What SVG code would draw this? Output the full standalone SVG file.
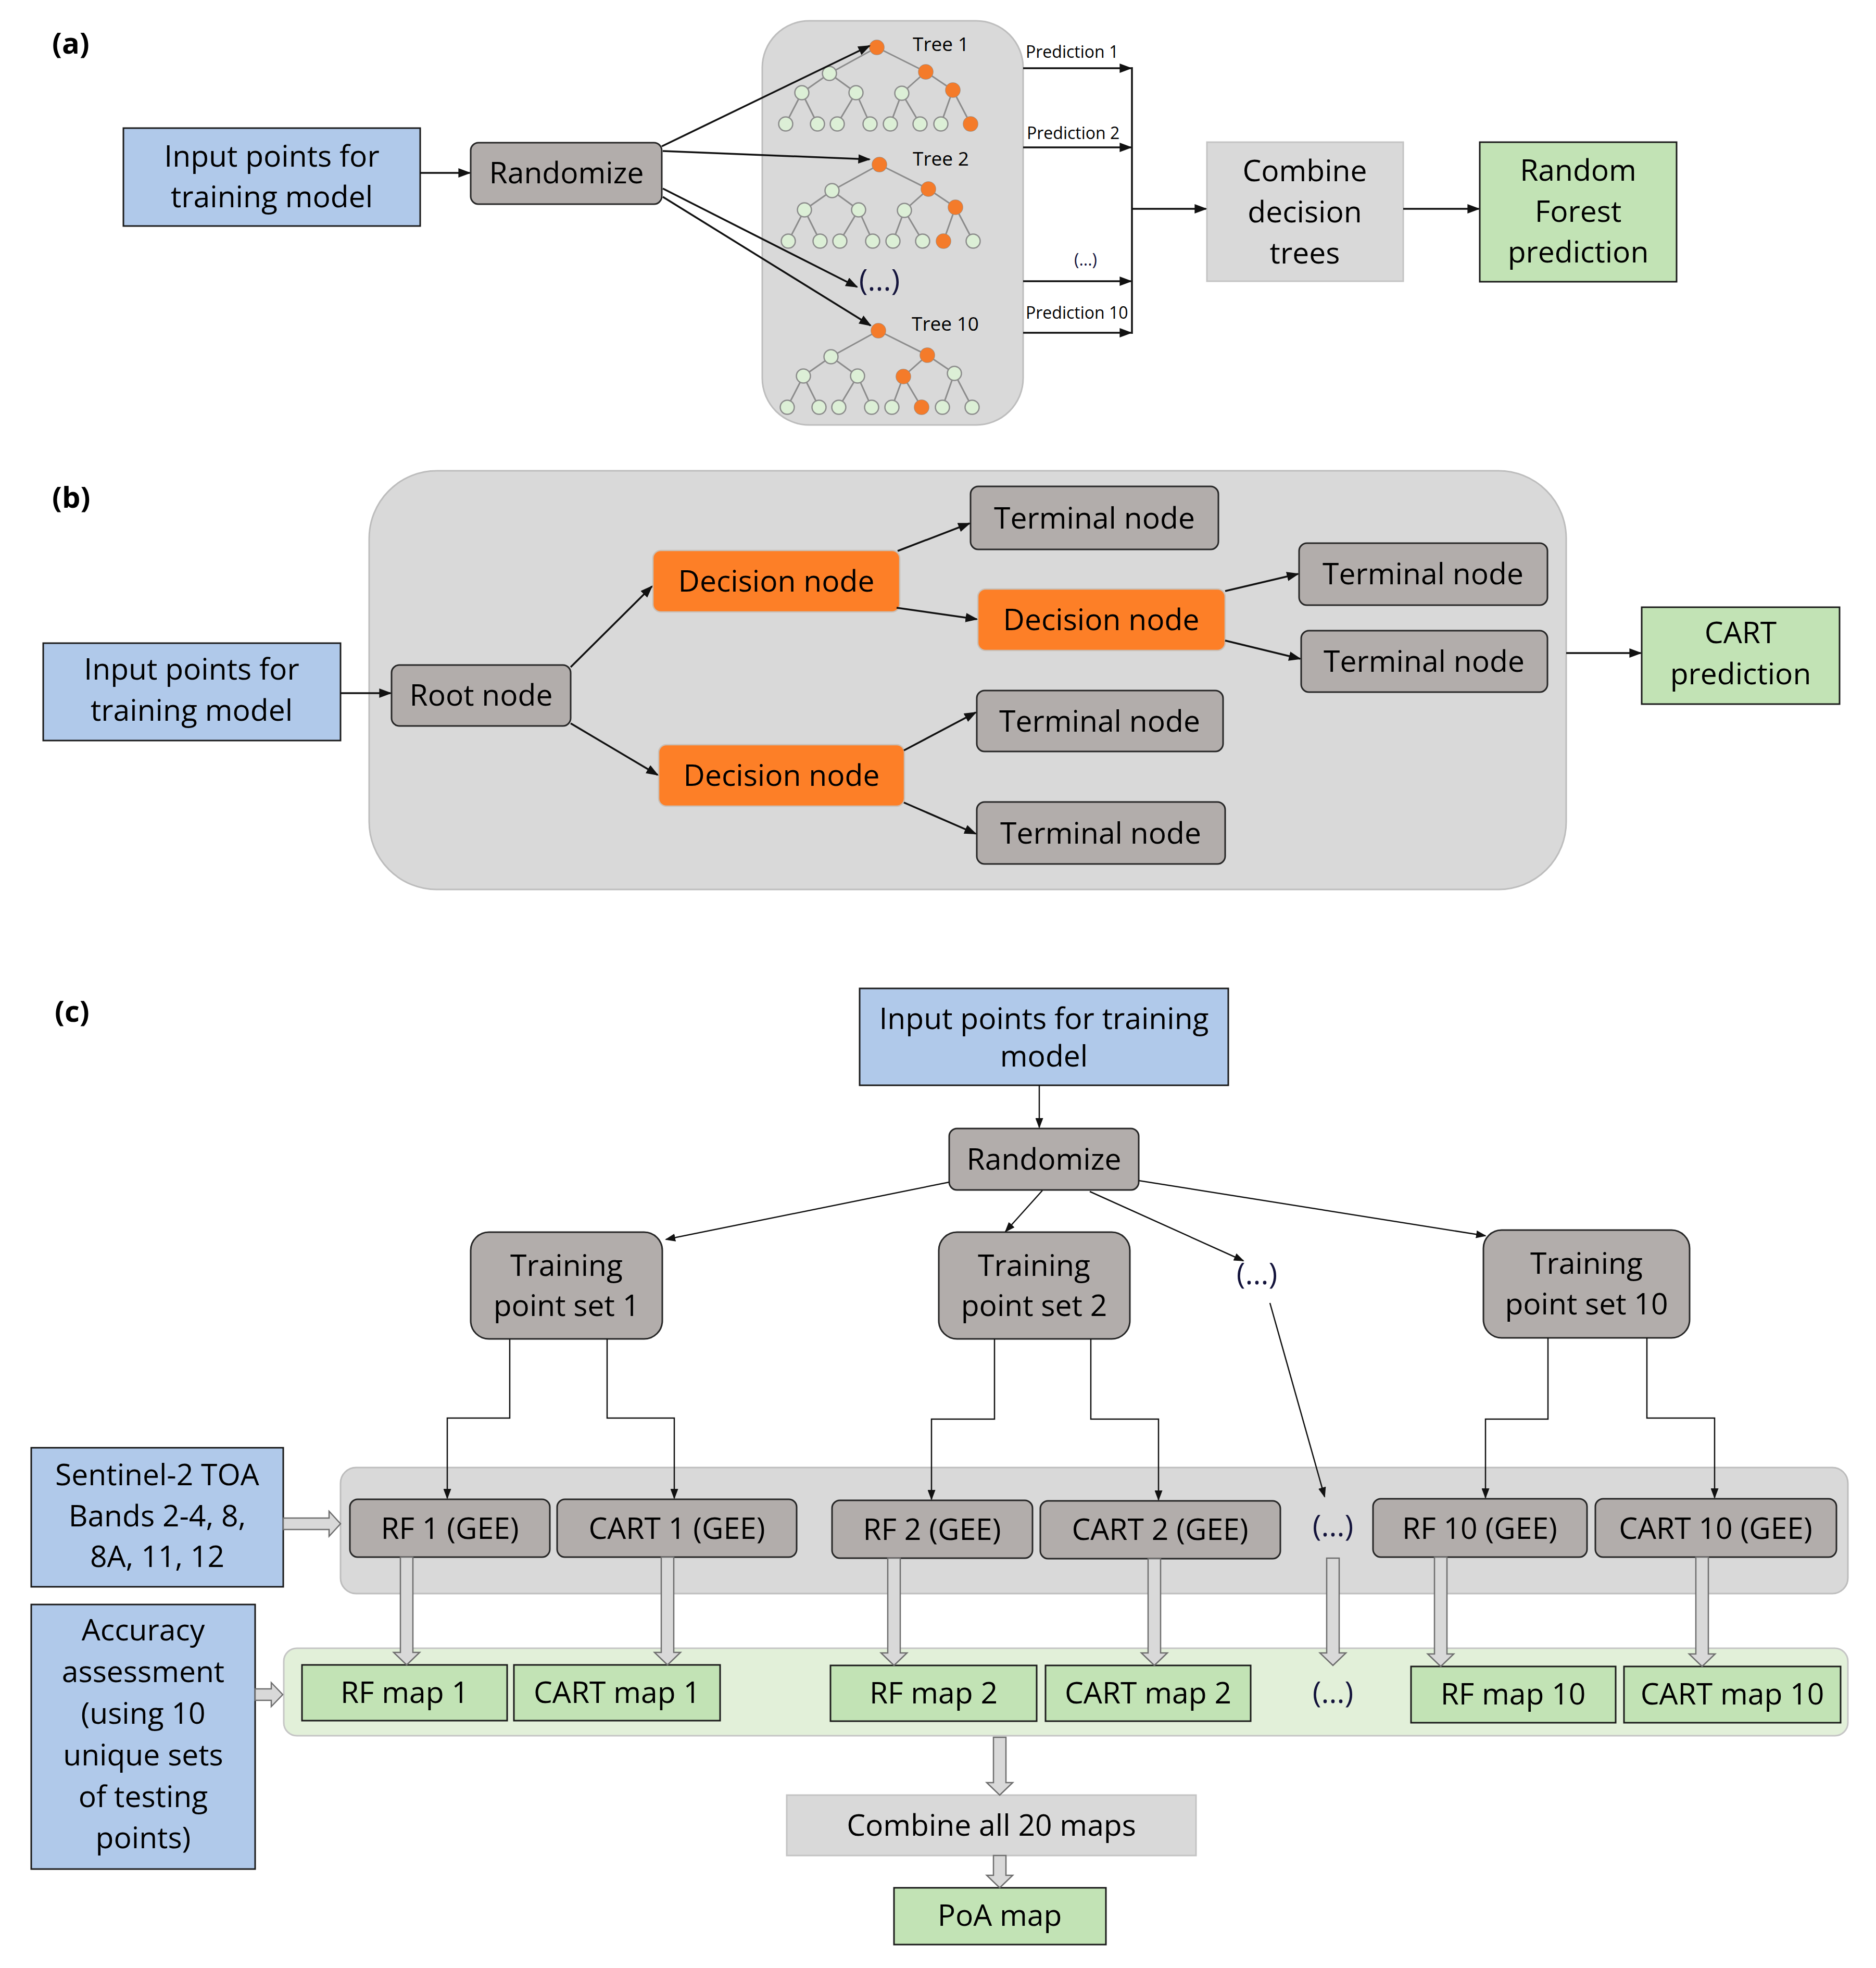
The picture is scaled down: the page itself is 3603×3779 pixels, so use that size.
<svg xmlns="http://www.w3.org/2000/svg" xmlns:xlink="http://www.w3.org/1999/xlink" width="3603" height="3779" viewBox="0 0 3603 3779">
<style>
.t{font-family:"Open Sans","Liberation Sans",sans-serif;font-size:57px;fill:#000;text-anchor:middle}
.ts{font-family:"Open Sans","Liberation Sans",sans-serif;font-size:32px;fill:#000}
.tt{font-family:"Open Sans","Liberation Sans",sans-serif;font-size:37px;fill:#000}
.lab{font-family:"Open Sans","Liberation Sans",sans-serif;font-size:56px;font-weight:bold;fill:#000}
.dots{fill:#14143c}
.blue{fill:#b0c9ea;stroke:#1a1a1a;stroke-width:3}
.gray{fill:#b2adab;stroke:#262626;stroke-width:3}
.orange{fill:#fd7f27;stroke:#c8c0b8;stroke-width:2.5}
.green{fill:#c2e3b5;stroke:#1a1a1a;stroke-width:3}
.lgray{fill:#d9d9d9;stroke:#c4c4c4;stroke-width:3}
.cont{fill:#d9d9d9;stroke:#bdbdbd;stroke-width:3}
.gcont{fill:#e2f0d9;stroke:#c6c6c6;stroke-width:3}
.ln{fill:none;stroke:#111;stroke-width:3.5;marker-end:url(#ah)}
.lnc{fill:none;stroke:#111;stroke-width:2.5;marker-end:url(#ahc)}
.pl{fill:none;stroke:#111;stroke-width:3.5}
.fat{fill:#d9d9d9;stroke:#6e6e6e;stroke-width:2.5}
.edge{fill:none;stroke:#8c8c8c;stroke-width:3}
.tn{fill:#dcefd6;stroke:#8c8c8c;stroke-width:2.5}
.on{fill:#f47b2a}
</style>
<defs>
<marker id="ah" viewBox="0 0 10 10" refX="9" refY="5" markerWidth="24" markerHeight="18" markerUnits="userSpaceOnUse" orient="auto" preserveAspectRatio="none"><path d="M0,0 L10,5 L0,10 z" fill="#111"/></marker>
<marker id="ahc" viewBox="0 0 10 10" refX="9" refY="5" markerWidth="20" markerHeight="15" markerUnits="userSpaceOnUse" orient="auto" preserveAspectRatio="none"><path d="M0,0 L10,5 L0,10 z" fill="#111"/></marker>
<g id="tree">
<path class="edge" d="M0,0 L-91,50 M0,0 L94,47 M-91,50 L-144,87 M-91,50 L-40,87 M94,47 L48,88 M94,47 L146,82 M-144,87 L-175,147 M-144,87 L-114,147 M-40,87 L-76,147 M-40,87 L-13,147 M48,88 L26,147 M48,88 L83,147 M146,82 L123,147 M146,82 L180,147"/>
<circle class="tn" cx="0" cy="0" r="13.5"/>
<circle class="tn" cx="-91" cy="50" r="13.5"/><circle class="tn" cx="94" cy="47" r="13.5"/>
<circle class="tn" cx="-144" cy="87" r="13.5"/><circle class="tn" cx="-40" cy="87" r="13.5"/><circle class="tn" cx="48" cy="88" r="13.5"/><circle class="tn" cx="146" cy="82" r="13.5"/>
<circle class="tn" cx="-175" cy="147" r="13.5"/><circle class="tn" cx="-114" cy="147" r="13.5"/><circle class="tn" cx="-76" cy="147" r="13.5"/><circle class="tn" cx="-13" cy="147" r="13.5"/><circle class="tn" cx="26" cy="147" r="13.5"/><circle class="tn" cx="83" cy="147" r="13.5"/><circle class="tn" cx="123" cy="147" r="13.5"/><circle class="tn" cx="180" cy="147" r="13.5"/>
</g>
</defs>
<rect width="3603" height="3779" fill="#fff"/>

<!-- ===== (a) ===== -->
<text class="lab" x="100" y="103">(a)</text>
<g id="a-input"><rect class="blue" x="237" y="246" width="570" height="188"/><text class="t" x="522" y="320">Input points for</text><text class="t" x="522" y="398">training model</text></g>
<g id="a-randomize"><rect class="gray" x="904" y="274" width="367" height="118" rx="15"/><text class="t" x="1088" y="352">Randomize</text></g>
<g id="a-forest">
<rect class="cont" x="1464" y="40" width="501" height="776" rx="90"/>
<use xlink:href="#tree" href="#tree" x="1684" y="91"/>
<use xlink:href="#tree" href="#tree" x="1689" y="316"/>
<use xlink:href="#tree" href="#tree" x="1687" y="635"/>
<g class="on">
<circle cx="1684" cy="91" r="14"/><circle cx="1778" cy="138" r="14"/><circle cx="1830" cy="173" r="14"/><circle cx="1864" cy="238" r="14"/>
<circle cx="1689" cy="316" r="14"/><circle cx="1783" cy="363" r="14"/><circle cx="1835" cy="398" r="14"/><circle cx="1812" cy="463" r="14"/>
<circle cx="1687" cy="635" r="14"/><circle cx="1781" cy="682" r="14"/><circle cx="1735" cy="723" r="14"/><circle cx="1770" cy="782" r="14"/>
</g>
<text class="tt" x="1753" y="98">Tree 1</text>
<text class="tt" x="1753" y="318">Tree 2</text>
<text class="tt" x="1751" y="635">Tree 10</text>
<text class="t dots" x="1689" y="558">(...)</text>
</g>
<g id="a-combine"><rect class="lgray" x="2318" y="273" width="377" height="267"/><text class="t" x="2506" y="348">Combine</text><text class="t" x="2506" y="427">decision</text><text class="t" x="2506" y="506">trees</text></g>
<g id="a-rf"><rect class="green" x="2842" y="273" width="378" height="268"/><text class="t" x="3031" y="347">Random</text><text class="t" x="3031" y="426">Forest</text><text class="t" x="3031" y="504">prediction</text></g>
<g id="a-labels">
<text class="ts" x="1970" y="111">Prediction 1</text>
<text class="ts" x="1972" y="267">Prediction 2</text>
<text class="ts dots" x="2085" y="510" text-anchor="middle">(...)</text>
<text class="ts" x="1970" y="612">Prediction 10</text>
</g>
<g id="a-connectors">
<line class="ln" x1="807" y1="332" x2="902" y2="332"/>
<line class="ln" x1="1271" y1="281" x2="1670" y2="88"/>
<line class="ln" x1="1273" y1="290" x2="1670" y2="306"/>
<line class="ln" x1="1273" y1="362" x2="1646" y2="551"/>
<line class="ln" x1="1273" y1="378" x2="1672" y2="625"/>
<line class="ln" x1="1965" y1="131" x2="2172" y2="131"/>
<line class="ln" x1="1965" y1="283" x2="2172" y2="283"/>
<line class="ln" x1="1965" y1="540" x2="2172" y2="540"/>
<line class="ln" x1="1965" y1="639" x2="2172" y2="639"/>
<line class="pl" x1="2174" y1="129" x2="2174" y2="641"/>
<line class="ln" x1="2174" y1="401" x2="2316" y2="401"/>
<line class="ln" x1="2695" y1="401" x2="2840" y2="401"/>
</g>

<!-- ===== (b) ===== -->
<text class="lab" x="100" y="975">(b)</text>
<rect class="cont" x="709" y="904" width="2299" height="804" rx="130"/>
<g id="b-input"><rect class="blue" x="83" y="1235" width="571" height="187"/><text class="t" x="368" y="1305">Input points for</text><text class="t" x="368" y="1384">training model</text></g>
<g id="b-root"><rect class="gray" x="752" y="1277" width="344" height="117" rx="15"/><text class="t" x="924" y="1355">Root node</text></g>
<g id="b-dec1"><rect class="orange" x="1254" y="1057" width="474" height="118" rx="15"/><text class="t" x="1491" y="1136">Decision node</text></g>
<g id="b-dec2"><rect class="orange" x="1878" y="1131" width="475" height="118" rx="15"/><text class="t" x="2115" y="1210">Decision node</text></g>
<g id="b-dec3"><rect class="orange" x="1265" y="1430" width="472" height="118" rx="15"/><text class="t" x="1501" y="1509">Decision node</text></g>
<g id="b-term1"><rect class="gray" x="1864" y="934" width="476" height="121" rx="15"/><text class="t" x="2102" y="1015">Terminal node</text></g>
<g id="b-term2"><rect class="gray" x="2495" y="1043" width="477" height="119" rx="15"/><text class="t" x="2733" y="1122">Terminal node</text></g>
<g id="b-term3"><rect class="gray" x="2499" y="1211" width="473" height="118" rx="15"/><text class="t" x="2735" y="1290">Terminal node</text></g>
<g id="b-term4"><rect class="gray" x="1876" y="1326" width="473" height="117" rx="15"/><text class="t" x="2112" y="1405">Terminal node</text></g>
<g id="b-term5"><rect class="gray" x="1876" y="1540" width="477" height="119" rx="15"/><text class="t" x="2114" y="1620">Terminal node</text></g>
<g id="b-cart"><rect class="green" x="3153" y="1166" width="380" height="186"/><text class="t" x="3343" y="1235">CART</text><text class="t" x="3343" y="1314">prediction</text></g>
<g id="b-connectors">
<line class="ln" x1="654" y1="1331" x2="750" y2="1331"/>
<line class="ln" x1="1096" y1="1281" x2="1252" y2="1126"/>
<line class="ln" x1="1096" y1="1389" x2="1263" y2="1488"/>
<line class="ln" x1="1724" y1="1058" x2="1862" y2="1005"/>
<line class="ln" x1="1722" y1="1167" x2="1876" y2="1189"/>
<line class="ln" x1="2353" y1="1135" x2="2493" y2="1102"/>
<line class="ln" x1="2353" y1="1230" x2="2497" y2="1265"/>
<line class="ln" x1="1736" y1="1441" x2="1874" y2="1368"/>
<line class="ln" x1="1736" y1="1541" x2="1874" y2="1601"/>
<line class="ln" x1="3008" y1="1254" x2="3151" y2="1254"/>
</g>

<!-- ===== (c) ===== -->
<text class="lab" x="105" y="1962">(c)</text>
<g id="c-input"><rect class="blue" x="1651" y="1898" width="708" height="186"/><text class="t" x="2005" y="1976">Input points for training</text><text class="t" x="2005" y="2048">model</text></g>
<g id="c-randomize"><rect class="gray" x="1823" y="2167" width="364" height="118" rx="15"/><text class="t" x="2005" y="2246">Randomize</text></g>
<g id="c-tps1"><rect class="gray" x="904" y="2366" width="368" height="205" rx="35"/><text class="t" x="1088" y="2450">Training</text><text class="t" x="1088" y="2527">point set 1</text></g>
<g id="c-tps2"><rect class="gray" x="1803" y="2366" width="367" height="205" rx="35"/><text class="t" x="1986" y="2450">Training</text><text class="t" x="1986" y="2527">point set 2</text></g>
<g id="c-dots1"><text class="t dots" x="2414" y="2466">(...)</text></g>
<g id="c-tps10"><rect class="gray" x="2849" y="2362" width="396" height="207" rx="35"/><text class="t" x="3047" y="2446">Training</text><text class="t" x="3047" y="2524">point set 10</text></g>

<rect class="cont" x="654" y="2818" width="2895" height="242" rx="30"/>
<g id="c-rf1"><rect class="gray" x="672" y="2879" width="384" height="111" rx="15"/><text class="t" x="864" y="2955">RF 1 (GEE)</text></g>
<g id="c-cart1"><rect class="gray" x="1070" y="2879" width="460" height="111" rx="15"/><text class="t" x="1300" y="2955">CART 1 (GEE)</text></g>
<g id="c-rf2"><rect class="gray" x="1598" y="2881" width="385" height="111" rx="15"/><text class="t" x="1790" y="2957">RF 2 (GEE)</text></g>
<g id="c-cart2"><rect class="gray" x="1998" y="2882" width="461" height="111" rx="15"/><text class="t" x="2228" y="2957">CART 2 (GEE)</text></g>
<g id="c-dots2"><text class="t dots" x="2560" y="2950">(...)</text></g>
<g id="c-rf10"><rect class="gray" x="2637" y="2878" width="411" height="112" rx="15"/><text class="t" x="2842" y="2955">RF 10 (GEE)</text></g>
<g id="c-cart10"><rect class="gray" x="3064" y="2878" width="463" height="112" rx="15"/><text class="t" x="3295" y="2955">CART 10 (GEE)</text></g>

<g id="c-sentinel"><rect class="blue" x="60" y="2780" width="484" height="267"/><text class="t" x="302" y="2852">Sentinel-2 TOA</text><text class="t" x="302" y="2931">Bands 2-4, 8,</text><text class="t" x="302" y="3009">8A, 11, 12</text></g>
<g id="c-accuracy"><rect class="blue" x="60" y="3081" width="430" height="508"/>
<text class="t" x="275" y="3150">Accuracy</text><text class="t" x="275" y="3230">assessment</text><text class="t" x="275" y="3310">(using 10</text><text class="t" x="275" y="3390">unique sets</text><text class="t" x="275" y="3470">of testing</text><text class="t" x="275" y="3549">points)</text></g>

<rect class="gcont" x="545" y="3165" width="3004" height="168" rx="25"/>
<g id="c-rfmap1"><rect class="green" x="580" y="3197" width="394" height="107"/><text class="t" x="777" y="3270">RF map 1</text></g>
<g id="c-cartmap1"><rect class="green" x="987" y="3197" width="396" height="107"/><text class="t" x="1185" y="3270">CART map 1</text></g>
<g id="c-rfmap2"><rect class="green" x="1595" y="3198" width="396" height="107"/><text class="t" x="1793" y="3271">RF map 2</text></g>
<g id="c-cartmap2"><rect class="green" x="2008" y="3198" width="394" height="107"/><text class="t" x="2205" y="3271">CART map 2</text></g>
<g id="c-dots3"><text class="t dots" x="2560" y="3270">(...)</text></g>
<g id="c-rfmap10"><rect class="green" x="2710" y="3200" width="393" height="108"/><text class="t" x="2906" y="3273">RF map 10</text></g>
<g id="c-cartmap10"><rect class="green" x="3119" y="3200" width="416" height="108"/><text class="t" x="3327" y="3273">CART map 10</text></g>
<g id="c-combine"><rect class="lgray" x="1511" y="3447" width="786" height="116"/><text class="t" x="1904" y="3525">Combine all 20 maps</text></g>
<g id="c-poa"><rect class="green" x="1717" y="3625" width="407" height="109"/><text class="t" x="1920" y="3698">PoA map</text></g>

<g id="c-connectors">
<line class="lnc" x1="1996" y1="2084" x2="1996" y2="2165"/>
<line class="lnc" x1="1823" y1="2270" x2="1279" y2="2380"/>
<line class="lnc" x1="2002" y1="2286" x2="1931" y2="2365"/>
<line class="lnc" x1="2093" y1="2288" x2="2388" y2="2421"/>
<line class="lnc" x1="2187" y1="2267" x2="2853" y2="2373"/>
<line class="lnc" x1="2439" y1="2502" x2="2544" y2="2874"/>
<polyline class="lnc" points="979,2571 979,2723 859,2723 859,2877"/>
<polyline class="lnc" points="1166,2571 1166,2723 1295,2723 1295,2877"/>
<polyline class="lnc" points="1910,2571 1910,2725 1789,2725 1789,2879"/>
<polyline class="lnc" points="2095,2571 2095,2725 2225,2725 2225,2880"/>
<polyline class="lnc" points="2973,2569 2973,2725 2853,2725 2853,2876"/>
<polyline class="lnc" points="3163,2569 3163,2723 3293,2723 3293,2876"/>
<path class="fat" d="M544,2915 L632,2915 L632,2902 L654,2926 L632,2950 L632,2937 L544,2937 Z"/>
<path class="fat" d="M490,3243 L521,3243 L521,3231 L543,3254 L521,3277 L521,3265 L490,3265 Z"/>
<path class="fat" d="M769,2990 L793,2990 L793,3173 L806,3173 L781,3197 L756,3173 L769,3173 Z"/>
<path class="fat" d="M1270,2990 L1294,2990 L1294,3173 L1307,3173 L1282,3197 L1257,3173 L1270,3173 Z"/>
<path class="fat" d="M1705,2992 L1729,2992 L1729,3174 L1742,3174 L1717,3198 L1692,3174 L1705,3174 Z"/>
<path class="fat" d="M2205,2993 L2229,2993 L2229,3174 L2242,3174 L2217,3198 L2192,3174 L2205,3174 Z"/>
<path class="fat" d="M2548,2992 L2572,2992 L2572,3174 L2585,3174 L2560,3198 L2535,3174 L2548,3174 Z"/>
<path class="fat" d="M2755,2990 L2779,2990 L2779,3176 L2792,3176 L2767,3200 L2742,3176 L2755,3176 Z"/>
<path class="fat" d="M3257,2990 L3281,2990 L3281,3176 L3294,3176 L3269,3200 L3244,3176 L3257,3176 Z"/>
<path class="fat" d="M1908,3336 L1932,3336 L1932,3423 L1945,3423 L1920,3447 L1895,3423 L1908,3423 Z"/>
<path class="fat" d="M1908,3563 L1932,3563 L1932,3601 L1945,3601 L1920,3625 L1895,3601 L1908,3601 Z"/>
</g>
</svg>
